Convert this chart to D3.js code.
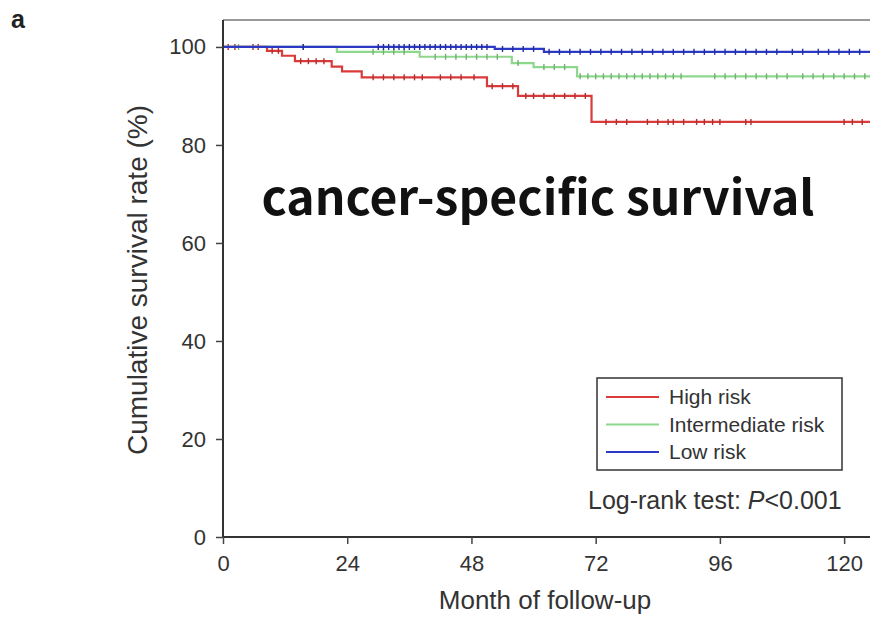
<!DOCTYPE html>
<html>
<head>
<meta charset="utf-8">
<script src="https://cdn.jsdelivr.net/npm/d3@7"></script>
<style>
  body { margin: 0; background: #fff; }
  svg { display: block; }
  text { font-family: "Liberation Sans", Arial, sans-serif; fill: #333; }
</style>
</head>
<body>
<svg width="870" height="617"></svg>
<script>
// Kaplan-Meier steps (months, survival %)
var highTimes = [0, 8.5, 11.4, 13.9, 21, 23, 26.8, 51, 57, 71.2];
var highSurv  = [100, 99.2, 98.2, 97.1, 96.0, 95.0, 93.8, 92.0, 90.0, 84.7];
var highCens  = [1, 2.3, 5.8, 6.8, 9.5, 10.7, 15, 16.5, 18, 19.5, 29, 31, 33, 35, 37, 38.5,
                 42, 44, 46, 48.5, 52, 54, 56, 58.5, 60, 62, 64, 66, 68, 70,
                 74, 76, 78, 82, 84, 86, 87, 89, 91.5, 93, 94.6, 96, 101, 102, 120, 121.6, 123.5];

var midTimes = [0, 22, 38, 55.8, 60, 68.4];
var midSurv  = [100, 99.0, 98.0, 96.7, 95.9, 94.0];
var midCens  = [3, 15.5, 29, 31, 33, 35, 41, 43, 45, 47, 49, 51, 53, 57, 62, 64, 66,
                69, 70.5, 72, 73.5, 75, 76.5, 78, 79.5, 81, 82.5, 84, 85.5, 87, 88.5,
                95, 97, 99, 101, 103, 105, 107, 109, 112, 114, 116, 118, 120, 122, 124];

var lowTimes = [0, 52.5, 62];
var lowSurv  = [100, 99.6, 99.0];
var lowCens  = [15.5, 30, 31, 32, 33, 34, 35, 36, 37, 38, 39, 40, 41, 42, 43, 44, 45, 46,
                47, 48, 49, 50, 51, 54, 56, 58, 60, 63, 65, 67, 69, 71, 73, 75, 77, 79,
                81, 83, 85, 87, 89, 91, 93, 95, 97, 99, 101, 103, 105, 107, 110, 112,
                115, 117, 119, 121, 123];

var groupNames  = ["High risk", "Intermediate risk", "Low risk"];
var groupColors = ["#d93a3a", "#8ed88e", "#2b39c4"];
var xTicks = [0, 24, 48, 72, 96, 120];
var yTicks = [0, 20, 40, 60, 80, 100];
var followEnd = 125;

var svg = d3.select("svg");

var x = d3.scaleLinear().domain([0, 125]).range([223, 870]);
var y = d3.scaleLinear().domain([0, 105.5]).range([537, 20]);

var groups = [
    { name: groupNames[0], color: groupColors[0], t: highTimes, s: highSurv, c: highCens },
    { name: groupNames[1], color: groupColors[1], t: midTimes,  s: midSurv,  c: midCens },
    { name: groupNames[2], color: groupColors[2], t: lowTimes,  s: lowSurv,  c: lowCens }
];

function survAt(g, t) {
    var i = d3.bisectRight(g.t, t) - 1;
    return g.s[Math.max(0, i)];
}

// panel letter
svg.append("text")
    .attr("x", 11).attr("y", 28)
    .attr("font-size", 25).attr("font-weight", "bold")
    .style("fill", "#222")
    .text("a");

// top frame
svg.append("line")
    .attr("x1", x(0)).attr("x2", 870)
    .attr("y1", y(105.5)).attr("y2", y(105.5))
    .attr("stroke", "#999").attr("stroke-width", 2);

// curves
var line = d3.line()
    .curve(d3.curveStepAfter)
    .x(function(d) { return x(d[0]); })
    .y(function(d) { return y(d[1]); });

var curves = svg.append("g").attr("class", "curves");
groups.forEach(function(g) {
    var pts = g.t.map(function(t, i) { return [t, g.s[i]]; });
    pts.push([followEnd, g.s[g.s.length - 1]]);
    var gg = curves.append("g");
    gg.append("path")
        .attr("d", line(pts))
        .attr("fill", "none")
        .attr("stroke", g.color)
        .attr("stroke-width", 2.2);
    gg.selectAll("line")
        .data(g.c)
        .enter().append("line")
        .attr("x1", function(d) { return x(d); })
        .attr("x2", function(d) { return x(d); })
        .attr("y1", function(d) { return y(survAt(g, d)) - 3; })
        .attr("y2", function(d) { return y(survAt(g, d)) + 3; })
        .attr("stroke", d3.color(g.color).darker(0.6))
        .attr("stroke-width", 1.4);
});

// axes
var xAxis = svg.append("g")
    .attr("transform", "translate(0," + y(0) + ")")
    .call(d3.axisBottom(x).tickValues(xTicks).tickSize(7).tickPadding(11));
var yAxis = svg.append("g")
    .attr("transform", "translate(" + x(0) + ",0)")
    .call(d3.axisLeft(y).tickValues(yTicks).tickSize(7).tickPadding(10));

[xAxis, yAxis].forEach(function(a) {
    a.select(".domain").attr("stroke", "#333").attr("stroke-width", 2);
    a.selectAll(".tick line").attr("stroke", "#444").attr("stroke-width", 1.5);
    a.selectAll(".tick text")
        .attr("font-size", 22)
        .style("font-family", "Liberation Sans, Arial, sans-serif")
        .style("fill", "#333");
});
xAxis.select(".domain").attr("d", "M" + x(0) + ",0H870");
yAxis.select(".domain").attr("d", "M0," + y(105.5) + "V" + y(0));

// axis titles
svg.append("text")
    .attr("x", 545).attr("y", 609)
    .attr("text-anchor", "middle")
    .attr("font-size", 26)
    .text("Month of follow-up");

svg.append("text")
    .attr("transform", "translate(147,280) rotate(-90)")
    .attr("text-anchor", "middle")
    .attr("font-size", 28)
    .text("Cumulative survival rate (%)");

// big overlay title
var title = svg.append("text")
    .attr("x", 538).attr("y", 215)
    .attr("text-anchor", "middle")
    .style("font-family", "'Noto Sans CJK KR', 'Noto Sans', sans-serif")
    .attr("font-weight", "bold")
    .attr("font-size", 40)
    .style("fill", "#111")
    .text("cancer-specific survival");
var tw = title.node().getComputedTextLength();
title.attr("font-size", 40 * 553 / tw);

// legend
var legend = svg.append("g");
legend.append("rect")
    .attr("x", 597).attr("y", 378)
    .attr("width", 245).attr("height", 92)
    .attr("fill", "#fff")
    .attr("stroke", "#333").attr("stroke-width", 1.5);

var items = legend.selectAll("g.item")
    .data(groups)
    .enter().append("g")
    .attr("class", "item")
    .attr("transform", function(d, i) { return "translate(0," + (397 + i * 27.5) + ")"; });
items.append("line")
    .attr("x1", 606).attr("x2", 659)
    .attr("stroke", function(d) { return d.color; })
    .attr("stroke-width", 2);
items.append("text")
    .attr("x", 669).attr("dy", "0.35em")
    .attr("font-size", 21)
    .text(function(d) { return d.name; });

var lr = svg.append("text")
    .attr("x", 588).attr("y", 509)
    .attr("font-size", 25);
lr.append("tspan").text("Log-rank test: ");
lr.append("tspan").attr("font-style", "italic").text("P");
lr.append("tspan").text("<0.001");
</script>
</body>
</html>
